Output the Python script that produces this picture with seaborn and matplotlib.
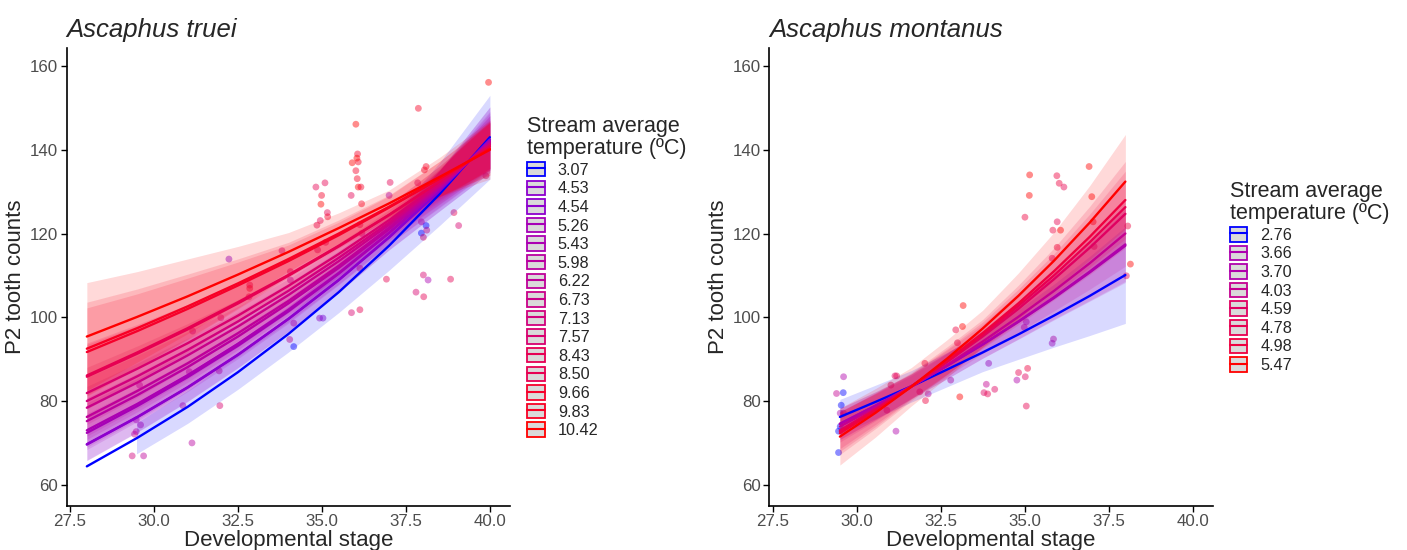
import numpy as np
import pandas as pd
import matplotlib
matplotlib.use("Agg")
import matplotlib.pyplot as plt
import seaborn as sns
from matplotlib.patches import Patch, Rectangle
from matplotlib.lines import Line2D

# ---- A. truei : stream temperatures, fitted curves and CI half widths (%)
truei_temps = [3.07, 4.53, 4.54, 5.26, 5.43, 5.98, 6.22, 6.73, 7.13, 7.57, 8.43, 8.50, 9.66, 9.83, 10.42]
truei_stages = [28, 29.5, 31, 32.5, 34, 35.5, 37, 38.5, 40]
truei_fit = [
    [64.4, 71.2, 78.6, 86.9, 96.0, 106.0, 117.1, 129.4, 143.0],
    [69.6, 76.1, 83.2, 91.0, 99.6, 108.9, 119.1, 130.2, 142.4],
    [69.7, 76.2, 83.3, 91.1, 99.6, 108.9, 119.1, 130.2, 142.4],
    [72.4, 78.8, 85.7, 93.2, 101.4, 110.4, 120.1, 130.6, 142.1],
    [73.0, 79.3, 86.2, 93.7, 101.8, 110.6, 120.2, 130.7, 142.0],
    [75.2, 81.4, 88.1, 95.4, 103.3, 111.8, 121.0, 131.0, 141.8],
    [76.2, 82.4, 89.0, 96.2, 103.9, 112.3, 121.4, 131.2, 141.7],
    [78.4, 84.4, 90.9, 97.8, 105.3, 113.4, 122.1, 131.4, 141.5],
    [80.0, 85.9, 92.2, 99.0, 106.3, 114.2, 122.6, 131.6, 141.3],
    [81.9, 87.7, 93.8, 100.4, 107.5, 115.1, 123.2, 131.9, 141.2],
    [85.8, 91.3, 97.1, 103.3, 109.9, 116.9, 124.4, 132.4, 140.8],
    [86.1, 91.6, 97.4, 103.6, 110.1, 117.1, 124.5, 132.4, 140.8],
    [91.7, 96.7, 102.0, 107.6, 113.4, 119.6, 126.2, 133.1, 140.3],
    [92.5, 97.4, 102.6, 108.1, 113.9, 120.0, 126.4, 133.1, 140.2],
    [95.4, 100.1, 105.0, 110.2, 115.6, 121.3, 127.2, 133.5, 140.0],
]
truei_ci = [
    [5.5, 5.2, 5.0, 4.7, 4.5, 4.6, 5.0, 5.8, 7.0],
    [5.5, 4.7, 4.0, 3.4, 3.0, 2.7, 2.5, 3.7, 5.5],
    [5.5, 4.7, 4.0, 3.4, 3.0, 2.7, 2.5, 3.7, 5.5],
    [5.5, 4.7, 4.0, 3.3, 2.8, 2.4, 2.2, 3.4, 5.0],
    [5.5, 4.7, 4.0, 3.3, 2.8, 2.4, 2.2, 3.3, 4.8],
    [5.8, 4.9, 4.1, 3.3, 2.7, 2.3, 2.1, 3.1, 4.5],
    [6.0, 5.1, 4.2, 3.4, 2.7, 2.3, 2.1, 3.1, 4.5],
    [6.5, 5.5, 4.5, 3.5, 2.7, 2.2, 2.0, 2.9, 4.2],
    [7.0, 5.8, 4.7, 3.6, 2.7, 2.2, 2.0, 2.8, 4.0],
    [7.5, 6.2, 5.0, 3.8, 2.8, 2.2, 2.0, 2.8, 4.0],
    [9.0, 7.3, 5.8, 4.3, 3.0, 2.3, 2.0, 2.8, 4.0],
    [9.0, 7.3, 5.8, 4.3, 3.0, 2.3, 2.0, 2.8, 4.0],
    [11.5, 9.2, 7.2, 5.2, 3.4, 2.6, 2.2, 3.1, 4.5],
    [12.0, 9.6, 7.5, 5.4, 3.5, 2.7, 2.2, 3.1, 4.5],
    [13.5, 10.8, 8.5, 6.1, 4.0, 3.0, 2.5, 3.5, 5.0],
]
truei_ci_start = [29.5, 28, 28, 28, 28, 28, 28, 28, 28, 28, 28, 28, 28, 28, 28]

# observed points: stage, count, index of stream temperature
truei_x = [39.96, 37.87, 36.01, 36.06, 35.90, 36.08, 36.04, 36.01, 36.05, 36.08, 36.16, 34.82, 35.09,
           34.99, 34.97, 35.87, 36.18, 35.16, 35.17, 34.95, 34.85, 37.03, 37.00, 37.85, 38.05, 38.10,
           39.88, 38.93, 39.07, 37.96, 38.10, 37.96, 38.12, 38.02, 38.02, 38.16, 38.83, 36.92, 37.80,
           38.03, 35.88, 36.13, 34.93, 35.03, 34.16, 34.04, 34.16, 32.23, 33.81, 34.87, 34.06, 34.06,
           36.13, 36.19, 36.13, 35.11, 32.85, 32.85, 32.83, 31.99, 31.15, 29.57, 31.05, 31.94, 30.86,
           31.96, 29.60, 29.47, 29.42, 31.13, 29.35, 29.69, 29.47]
truei_y = [156.1, 149.9, 146.1, 139.0, 136.9, 137.1, 138.0, 135.0, 133.1, 131.1, 131.1, 131.1, 132.1,
           129.1, 127.0, 129.1, 127.1, 125.0, 124.0, 123.1, 122.0, 132.2, 129.1, 132.1, 135.2, 136.0,
           133.8, 125.0, 121.9, 122.8, 121.9, 120.1, 120.8, 119.1, 110.1, 108.9, 109.1, 109.1, 106.0,
           104.9, 101.1, 101.8, 99.8, 99.8, 93.0, 94.7, 98.6, 113.9, 115.9, 116.1, 110.9, 108.9,
           111.7, 120.0, 122.1, 117.9, 107.7, 106.9, 104.9, 99.9, 96.7, 83.8, 87.0, 87.2, 78.9,
           78.9, 74.3, 72.7, 72.1, 70.0, 66.9, 66.9, 75.5]
truei_site = [14, 13, 14, 12, 14, 13, 14, 12, 13, 14, 12, 11, 11,
              12, 14, 10, 13, 11, 12, 10, 11, 10, 3, 9, 12, 13,
              11, 10, 9, 8, 0, 0, 9, 10, 9, 4, 10, 11, 9,
              10, 9, 11, 3, 2, 0, 8, 7, 2, 8, 9, 8, 6,
              10, 9, 11, 10, 11, 12, 10, 9, 7, 6, 5, 8, 6,
              9, 5, 6, 7, 5, 8, 6, 4]

# ---- A. montanus
mont_temps = [2.76, 3.66, 3.70, 4.03, 4.59, 4.78, 4.98, 5.47]
mont_stages = [29.5, 30.5625, 31.625, 32.6875, 33.75, 34.8125, 35.875, 36.9375, 38]
mont_fit = [
    [76.2, 79.8, 83.5, 87.5, 91.6, 95.9, 100.4, 105.1, 110.1],
    [74.6, 78.9, 83.5, 88.4, 93.5, 98.9, 104.6, 110.7, 117.1],
    [74.5, 78.9, 83.5, 88.4, 93.5, 99.0, 104.8, 110.9, 117.4],
    [73.9, 78.5, 83.4, 88.6, 94.2, 100.1, 106.3, 112.9, 120.0],
    [73.0, 78.1, 83.5, 89.3, 95.4, 102.0, 109.1, 116.6, 124.7],
    [72.7, 77.9, 83.5, 89.4, 95.8, 102.7, 110.0, 117.9, 126.3],
    [72.3, 77.7, 83.4, 89.6, 96.2, 103.3, 111.0, 119.2, 128.0],
    [71.5, 77.2, 83.4, 90.1, 97.3, 105.1, 113.5, 122.6, 132.4],
]
mont_ci = [
    [5.5, 5.0, 4.5, 4.7, 5.0, 6.2, 7.5, 9.0, 10.5],
    [5.0, 4.2, 3.5, 3.5, 3.5, 4.2, 5.0, 6.2, 7.5],
    [5.0, 4.2, 3.5, 3.5, 3.5, 4.2, 5.0, 6.2, 7.5],
    [5.0, 4.1, 3.2, 3.1, 3.0, 3.7, 4.5, 5.5, 6.5],
    [6.0, 4.7, 3.5, 3.2, 3.0, 3.7, 4.5, 5.5, 6.5],
    [6.5, 5.1, 3.7, 3.4, 3.2, 3.9, 4.7, 5.7, 6.8],
    [7.0, 5.5, 4.0, 3.7, 3.4, 4.2, 5.0, 6.1, 7.2],
    [9.5, 7.5, 5.5, 5.0, 4.5, 5.2, 6.0, 7.2, 8.5],
]
mont_ci_start = [29.5, 29.5, 29.5, 29.5, 29.5, 29.5, 29.5, 29.5]

mont_x = [35.15, 35.96, 36.92, 36.03, 36.17, 35.14, 35.01, 37.00, 35.97, 35.84, 36.07, 38.07, 38.15,
          38.03, 35.97, 35.82, 37.04, 37.07, 35.05, 34.99, 35.86, 35.82, 33.17, 32.95, 33.15, 33.00,
          32.03, 33.93, 32.80, 33.07, 32.05, 31.88, 32.13, 33.86, 33.79, 33.90, 34.11, 34.82, 35.09,
          34.77, 35.02, 35.05, 31.14, 31.19, 31.02, 31.17, 30.90, 29.61, 29.40, 29.60, 29.54, 29.51,
          29.61, 29.51, 29.46, 29.46]
mont_y = [134.0, 133.8, 136.0, 132.0, 131.1, 129.1, 123.9, 128.8, 122.8, 120.8, 120.8, 121.8, 112.7,
          109.9, 116.7, 114.1, 122.8, 116.9, 98.9, 97.6, 94.8, 93.8, 102.8, 97.0, 97.8, 93.9,
          89.0, 89.0, 85.0, 81.0, 80.1, 82.2, 81.7, 84.0, 82.0, 81.7, 82.8, 86.8, 87.8,
          85.0, 85.8, 78.8, 86.0, 86.0, 83.8, 72.8, 77.8, 85.8, 81.8, 82.0, 79.0, 77.1,
          77.1, 73.9, 72.8, 67.7]
mont_site = [7, 6, 7, 6, 5, 7, 6, 7, 5, 6, 7, 6, 7,
             5, 6, 4, 7, 5, 2, 3, 3, 2, 7, 6, 7, 5,
             6, 2, 3, 7, 6, 5, 3, 3, 4, 5, 4, 5, 6,
             2, 4, 5, 4, 5, 6, 2, 4, 2, 3, 0, 0, 1,
             2, 0, 0, 0]

# ---- blue -> red gradient interpolated in CIE Lab (like ggplot's gradient)
M = np.array([[0.4124, 0.3576, 0.1805], [0.2126, 0.7152, 0.0722], [0.0193, 0.1192, 0.9505]])
WHITE = np.array([0.95047, 1.0, 1.08883])


def to_lab(rgb):
    c = np.asarray(rgb, float)
    c = np.where(c > 0.04045, ((c + 0.055) / 1.055) ** 2.4, c / 12.92)
    xyz = M @ c / WHITE
    f = np.where(xyz > 0.008856, np.cbrt(xyz), 7.787 * xyz + 16 / 116)
    return np.array([116 * f[1] - 16, 500 * (f[0] - f[1]), 200 * (f[1] - f[2])])


def from_lab(lab):
    L, a, b = lab
    fy = (L + 16) / 116
    f = np.array([fy + a / 500, fy, fy - b / 200])
    xyz = np.where(f ** 3 > 0.008856, f ** 3, (f - 16 / 116) / 7.787) * WHITE
    c = np.clip(np.linalg.solve(M, xyz), 0, 1)
    c = np.where(c > 0.0031308, 1.055 * c ** (1 / 2.4) - 0.055, 12.92 * c)
    return tuple(np.clip(c, 0, 1))


LAB_LO, LAB_HI = to_lab([0, 0, 1]), to_lab([1, 0, 0])


def temp_palette(temps):
    lo, hi = min(temps), max(temps)
    return {t: from_lab(LAB_LO + (LAB_HI - LAB_LO) * (t - lo) / (hi - lo)) for t in temps}


sns.set_style("ticks")
plt.rcParams['font.family'] = ['Liberation Sans', 'DejaVu Sans']

fig = plt.figure(figsize=(14.07, 5.5), dpi=100)
ax1 = fig.add_axes([0.0474, 0.0805, 0.3151, 0.8322])
ax2 = fig.add_axes([0.5468, 0.0805, 0.3151, 0.8322])


def draw_panel(ax, title, temps, stages, fit, ci, ci_start, px, py, psite):
    pal = temp_palette(temps)

    # raw observations
    pts = pd.DataFrame({'stage': px, 'count': py, 'temp': [temps[i] for i in psite]})
    sns.scatterplot(data=pts, x='stage', y='count', hue='temp', palette=pal, s=24,
                    alpha=0.45, linewidth=0, legend=False, ax=ax, zorder=1)

    # confidence ribbons
    for t, f, w, x0 in zip(temps, fit, ci, ci_start):
        f = np.array(f)
        w = np.array(w) / 100
        poly = ax.fill_between(stages, f * (1 - w), f * (1 + w), color=pal[t],
                               alpha=0.15, linewidth=0, zorder=2)
        poly.set_clip_path(Rectangle((x0, 0), 100, 1000, transform=ax.transData))

    # fitted curves
    lines = pd.DataFrame([(t, s, v) for t, f in zip(temps, fit) for s, v in zip(stages, f)],
                         columns=['temp', 'stage', 'fit'])
    sns.lineplot(data=lines, x='stage', y='fit', hue='temp', palette=pal, units='temp',
                 estimator=None, linewidth=1.7, legend=False, ax=ax, zorder=3)

    ax.set_xlim(27.4, 40.6)
    ax.set_ylim(55, 164.3)
    ax.set_xticks([27.5, 30.0, 32.5, 35.0, 37.5, 40.0])
    ax.set_xticklabels([f"{v:.1f}" for v in [27.5, 30.0, 32.5, 35.0, 37.5, 40.0]])
    ax.set_yticks([60, 80, 100, 120, 140, 160])
    ax.tick_params(labelsize=12.2, labelcolor='#4d4d4d', length=4, width=1, color='black', pad=2)
    ax.set_xlabel("Developmental stage", fontsize=16, labelpad=1)
    ax.set_ylabel("P2 tooth counts", fontsize=16, labelpad=3)
    ax.set_title(title, loc='left', fontstyle='italic', fontsize=18.5, pad=8)
    for side in ['left', 'bottom']:
        ax.spines[side].set_linewidth(1.2)
        ax.spines[side].set_color('black')
    sns.despine(ax=ax)

    handles = [(Patch(facecolor='#dadada', edgecolor=pal[t], linewidth=1.3),
                Line2D([], [], color=pal[t], linewidth=1.5)) for t in temps]
    leg = ax.legend(handles, [f"{t:.2f}" for t in temps], title="Stream average\ntemperature (ºC)",
                    loc='center left', bbox_to_anchor=(1.038, 0.5), frameon=False, fontsize=11.7,
                    title_fontsize=15.5, alignment='left', handlelength=1.1, handleheight=1.0,
                    labelspacing=0.17, handletextpad=0.8, borderpad=0, borderaxespad=0)
    leg.get_title().set_linespacing(1.1)


draw_panel(ax1, "Ascaphus truei", truei_temps, truei_stages, truei_fit, truei_ci,
           truei_ci_start, truei_x, truei_y, truei_site)
draw_panel(ax2, "Ascaphus montanus", mont_temps, mont_stages, mont_fit, mont_ci,
           mont_ci_start, mont_x, mont_y, mont_site)

fig.savefig("out.png", dpi=100)
